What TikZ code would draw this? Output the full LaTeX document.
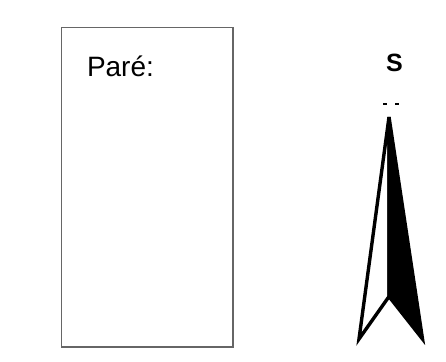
\documentclass[tikz,border=0pt]{standalone}
\usepackage{fontspec}
\setmainfont{Liberation Sans}
\newfontfamily\boldsans{Liberation Sans Bold}
\begin{document}
\begin{tikzpicture}[x=1pt,y=-1pt,
  framebox/.style={draw=black!60,line width=1.2pt},
  lbl/.style={inner sep=0pt,anchor=base west,font=\fontsize{28}{30}\selectfont},
  arrowhalf/.style={draw=black,line width=3.4pt,line join=miter}]
\useasboundingbox (0,0) rectangle (446,361);
\draw[framebox] (61.5,27.5) rectangle (233,347);
\node[lbl] (pare) at (86.8,76) {Paré:};
\node[inner sep=0pt,anchor=base] (s) at (394.5,71) {\fontsize{25}{28}\selectfont\boldsans S};
\coordinate (tip) at (389,117);
\coordinate (lc) at (359,339);
\coordinate (notch) at (389,296.5);
\coordinate (rc) at (422.5,339);
\draw[arrowhalf,fill=white] (tip) -- (lc) -- (notch) -- cycle;
\draw[arrowhalf,fill=black] (tip) -- (notch) -- (rc) -- cycle;
\coordinate (d1a) at (383,104); \coordinate (d1b) at (386.5,104);
\coordinate (d2a) at (395,104); \coordinate (d2b) at (398.5,104);
\draw[line width=1.5pt] (d1a) -- (d1b) (d2a) -- (d2b);
\end{tikzpicture}
\end{document}
